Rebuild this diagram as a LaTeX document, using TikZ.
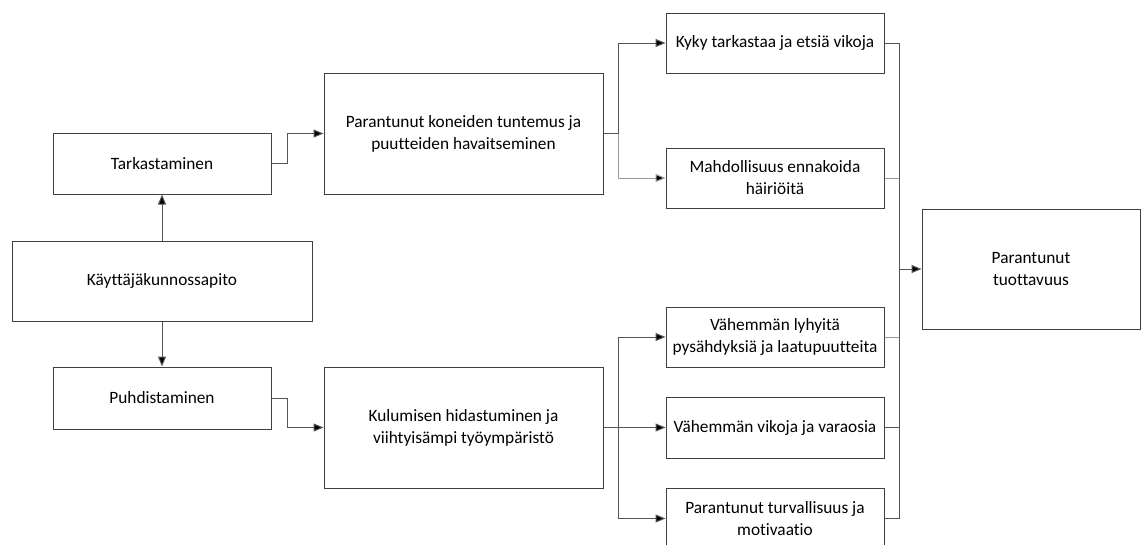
\documentclass[tikz,border=0pt]{standalone}
\usepackage{fontspec}
\setmainfont[Ligatures=NoCommon]{Carlito}
\usetikzlibrary{arrows.meta,calc}
\definecolor{boxline}{HTML}{404040}
\definecolor{wire}{HTML}{555555}
\definecolor{wirelight}{HTML}{9A9A9A}
\tikzset{
  stepbox/.style={draw=boxline, line width=1pt, rectangle, align=center,
    font=\fontsize{17.3}{22}\selectfont, inner sep=0pt},
  wired/.style={draw=wire, line width=1pt},
  flow/.style={wired, -{Triangle[length=10pt,width=8pt,fill=black]}},
}
\begin{document}
\begin{tikzpicture}[x=1pt,y=-1pt]
\useasboundingbox (0,0) rectangle (1143,544);
\clip (0,0) rectangle (1143,544);

% left column
\node[stepbox, minimum width=218, minimum height=61] (tark) at (162,163.5) {Tarkastaminen};
\node[stepbox, minimum width=300, minimum height=80] (kp) at (162,281) {Käyttäjäkunnossapito};
\node[stepbox, minimum width=218, minimum height=62] (puhd) at (162,398) {Puhdistaminen};

% middle column
\node[stepbox, minimum width=279, minimum height=121] (tunt) at (463.5,133.5) {Parantunut koneiden tuntemus ja\\puutteiden havaitseminen};
\node[stepbox, minimum width=279, minimum height=121] (kul) at (463.5,427.5) {Kulumisen hidastuminen ja\\viihtyisämpi työympäristö};

% effects
\node[stepbox, minimum width=218, minimum height=60] (kyky) at (775,43) {Kyky tarkastaa ja etsiä vikoja};
\node[stepbox, minimum width=218, minimum height=60] (mahd) at (775,178) {Mahdollisuus ennakoida\\häiriöitä};
\node[stepbox, minimum width=218, minimum height=60] (lyh) at (775,337) {Vähemmän lyhyitä\\pysähdyksiä ja laatupuutteita};
\node[stepbox, minimum width=218, minimum height=61] (vik) at (775,427.5) {Vähemmän vikoja ja varaosia};
\node[stepbox, minimum width=218, minimum height=61] (turv) at (775,518.5) {Parantunut turvallisuus ja\\motivaatio};

% result
\node[stepbox, minimum width=218, minimum height=120] (tuot) at (1031,269) {Parantunut\\tuottavuus};

% connectors, left part
\draw[flow] (kp.north) -- (tark.south);
\draw[flow] (kp.south) -- (puhd.north);
\draw[flow] (tark.east) -- ++(16,0) |- (tunt.west);
\draw[flow] (puhd.east) -- ++(16,0) |- (kul.west);

% branching to effects
\draw[wired] (tunt.east) -- ++(15,0) coordinate (s1);
\draw[flow] (s1) |- (kyky.west);
\draw[flow, draw=wirelight] (s1) |- (mahd.west);
\draw[wired] (kul.east) -- ++(15,0) coordinate (s2);
\draw[flow] (s2) |- (lyh.west);
\draw[flow] (s2) -- (vik.west);
\draw[flow] (s2) |- (turv.west);

% collecting bus
\coordinate (bt) at ($(kyky.east)+(15,0)$);
\coordinate (bb) at ($(turv.east)+(15,0)$);
\draw[wired] (kyky.east) -- (bt);
\draw[wired, draw=wirelight] (mahd.east) -- (bt |- mahd.east);
\draw[wired, draw=wirelight] (lyh.east) -- (bt |- lyh.east);
\draw[wired] (vik.east) -- (bt |- vik.east);
\draw[wired] (turv.east) -- (bb);
\draw[wired] (bt) -- (bb);
\draw[flow] (bt |- tuot.west) -- (tuot.west);
\end{tikzpicture}
\end{document}
